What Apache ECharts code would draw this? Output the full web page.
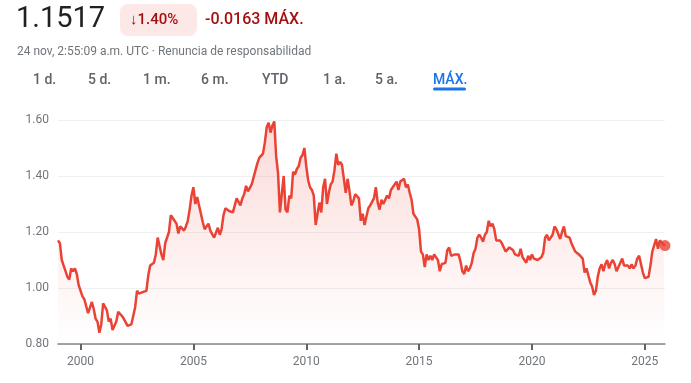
<!DOCTYPE html>
<html>
<head>
<meta charset="utf-8">
<script src="https://cdn.jsdelivr.net/npm/echarts@6/dist/echarts.min.js"></script>
<style>
html,body{margin:0;padding:0;background:#fff;}
#chart{width:691px;height:383px;}
</style>
</head>
<body>
<div id="chart"></div>
<script>
// EUR/USD style monthly closes
const startYear = 1999;
const startValue = 1.17;
const rates1999_2007 = [
  1.16,1.10,1.08,1.06,1.04,1.03,1.07,1.06,1.07,1.05,1.01,1.005,
  0.97,0.96,0.955,0.91,0.93,0.95,0.925,0.89,0.88,0.84,0.87,0.945,
  0.94,0.92,0.88,0.89,0.85,0.85,0.88,0.915,0.91,0.90,0.89,0.885,
  0.865,0.87,0.87,0.90,0.93,0.99,0.98,0.98,0.985,0.99,0.99,1.045,
  1.08,1.08,1.09,1.12,1.18,1.15,1.12,1.10,1.16,1.16,1.20,1.26,
  1.25,1.25,1.23,1.195,1.22,1.22,1.205,1.22,1.24,1.28,1.33,1.36,
  1.30,1.325,1.295,1.29,1.235,1.21,1.21,1.23,1.205,1.20,1.18,1.185,
  1.215,1.19,1.21,1.26,1.285,1.28,1.275,1.28,1.27,1.275,1.32,1.32,
  1.295,1.32,1.335,1.365,1.345,1.35,1.37,1.365,1.42,1.445,1.465,1.46
];
const rates2008_2016 = [
  1.48,1.52,1.575,1.59,1.555,1.58,1.595,1.47,1.41,1.27,1.265,1.40,
  1.28,1.27,1.33,1.32,1.415,1.405,1.425,1.435,1.465,1.475,1.50,1.435,
  1.385,1.36,1.35,1.33,1.225,1.22,1.305,1.27,1.36,1.39,1.30,1.34,
  1.37,1.38,1.42,1.48,1.44,1.45,1.44,1.44,1.34,1.39,1.345,1.295,
  1.31,1.335,1.335,1.32,1.24,1.265,1.225,1.255,1.285,1.295,1.30,1.32,
  1.36,1.305,1.28,1.315,1.30,1.30,1.33,1.32,1.35,1.36,1.36,1.38,
  1.35,1.38,1.38,1.39,1.36,1.37,1.34,1.315,1.265,1.255,1.245,1.21,
  1.13,1.12,1.075,1.12,1.10,1.115,1.10,1.12,1.115,1.10,1.06,1.085,
  1.08,1.09,1.135,1.145,1.115,1.11,1.12,1.115,1.12,1.095,1.06,1.05
];
const rates2017_2025 = [
  1.08,1.06,1.07,1.09,1.125,1.14,1.18,1.19,1.18,1.165,1.19,1.20,
  1.24,1.22,1.23,1.21,1.17,1.17,1.17,1.16,1.16,1.13,1.135,1.145,
  1.145,1.135,1.12,1.12,1.115,1.14,1.11,1.10,1.09,1.115,1.10,1.12,
  1.105,1.10,1.10,1.095,1.11,1.125,1.18,1.19,1.17,1.165,1.19,1.22,
  1.21,1.21,1.175,1.20,1.22,1.185,1.19,1.18,1.16,1.155,1.13,1.135,
  1.12,1.12,1.105,1.055,1.07,1.045,1.02,1.005,0.975,0.99,1.04,1.07,
  1.085,1.06,1.085,1.10,1.07,1.09,1.10,1.085,1.06,1.055,1.09,1.105,
  1.08,1.08,1.08,1.07,1.085,1.07,1.08,1.105,1.115,1.085,1.055,1.035,
  1.035,1.04,1.08,1.13,1.135,1.175,1.14,1.17,1.175,1.155,1.1517
];
const xTickYears = [2000, 2005, 2010, 2015, 2020, 2025];
const yTicks = [0.80, 1.00, 1.20, 1.40, 1.60];
const tabs = ['1 d.', '5 d.', '1 m.', '6 m.', 'YTD', '1 a.', '5 a.', 'MÁX.'];
const headerPrice = '1.1517';
const headerPct = '↓1.40%';
const headerChange = '-0.0163 MÁX.';
const headerSub = '24 nov, 2:55:09 a.m. UTC · Renuncia de responsabilidad';

const allRates = rates1999_2007.concat(rates2008_2016, rates2017_2025);
const seriesData = [[startYear, startValue]];
allRates.forEach((v, i) => {
  let t = startYear + (i + 1) / 12;
  if (i === allRates.length - 1) t = startYear + i / 12 + 0.75 / 12;
  seriesData.push([t, v]);
});
const lastPoint = seriesData[seriesData.length - 1];

const chart = echarts.init(document.getElementById('chart'), null, {renderer: 'canvas'});
const FONT = 'Roboto, "Noto Sans", sans-serif';
const tabX = [33, 88, 143, 201, 262, 323, 375, 433];
const graphics = [
  {type: 'text', left: 16, top: 5, style: {text: headerPrice, fontSize: 29, fontFamily: FONT, fill: '#202124'}},
  {type: 'rect', shape: {x: 120, y: 4, width: 77, height: 32, r: 8}, style: {fill: '#fce8e6'}},
  {type: 'text', x: 130, y: 20, style: {text: headerPct, fontSize: 15, fontWeight: 500, fontFamily: FONT, fill: '#a50e0e', verticalAlign: 'middle'}},
  {type: 'text', x: 205, y: 20, style: {text: headerChange, fontSize: 16, fontWeight: 500, fontFamily: FONT, fill: '#a50e0e', verticalAlign: 'middle'}},
  {type: 'text', x: 17, y: 52, style: {text: headerSub, fontSize: 12, fontFamily: FONT, fill: '#70757a', verticalAlign: 'middle'}},
  {type: 'rect', shape: {x: 433, y: 87.5, width: 33, height: 3, r: 1.5}, style: {fill: '#1a73e8'}}
];
tabs.forEach((t, i) => {
  graphics.push({type: 'text', x: tabX[i], y: 80, style: {
    text: t, fontSize: 14, fontWeight: 500, fontFamily: FONT,
    fill: i === tabs.length - 1 ? '#1a73e8' : '#5f6368', verticalAlign: 'middle'}});
});

chart.setOption({
  animation: false,
  backgroundColor: '#fff',
  graphic: graphics,
  grid: {left: 58, right: 26, top: 120, bottom: 39, containLabel: false},
  xAxis: {
    type: 'value', min: startYear, max: lastPoint[0],
    axisLine: {show: true, lineStyle: {color: '#80868b', width: 1.5}},
    axisTick: {show: true, customValues: xTickYears, length: 6, lineStyle: {color: '#5f6368', width: 2}},
    axisLabel: {customValues: xTickYears, color: '#70757a', fontSize: 12, fontFamily: FONT, margin: 12,
      formatter: v => String(Math.round(v))},
    splitLine: {show: false}
  },
  yAxis: {
    type: 'value', min: 0.8, max: 1.6, interval: 0.2,
    axisLine: {show: false}, axisTick: {show: false},
    axisLabel: {color: '#70757a', fontSize: 12, fontFamily: FONT, margin: 9,
      formatter: v => v.toFixed(2)},
    splitLine: {lineStyle: {color: '#eef0f2', width: 1}}
  },
  series: [
    {
      type: 'line', data: seriesData, showSymbol: false, smooth: false,
      lineStyle: {color: '#ea4335', width: 2.5},
      areaStyle: {color: new echarts.graphic.LinearGradient(0, 0, 0, 1, [
        {offset: 0, color: 'rgba(234,67,53,0.28)'},
        {offset: 1, color: 'rgba(234,67,53,0.0)'}
      ])},
      z: 3
    },
    {
      type: 'scatter', data: [lastPoint], symbolSize: 11,
      itemStyle: {color: '#ea4335'}, z: 5
    }
  ]
});
</script>
</body>
</html>
